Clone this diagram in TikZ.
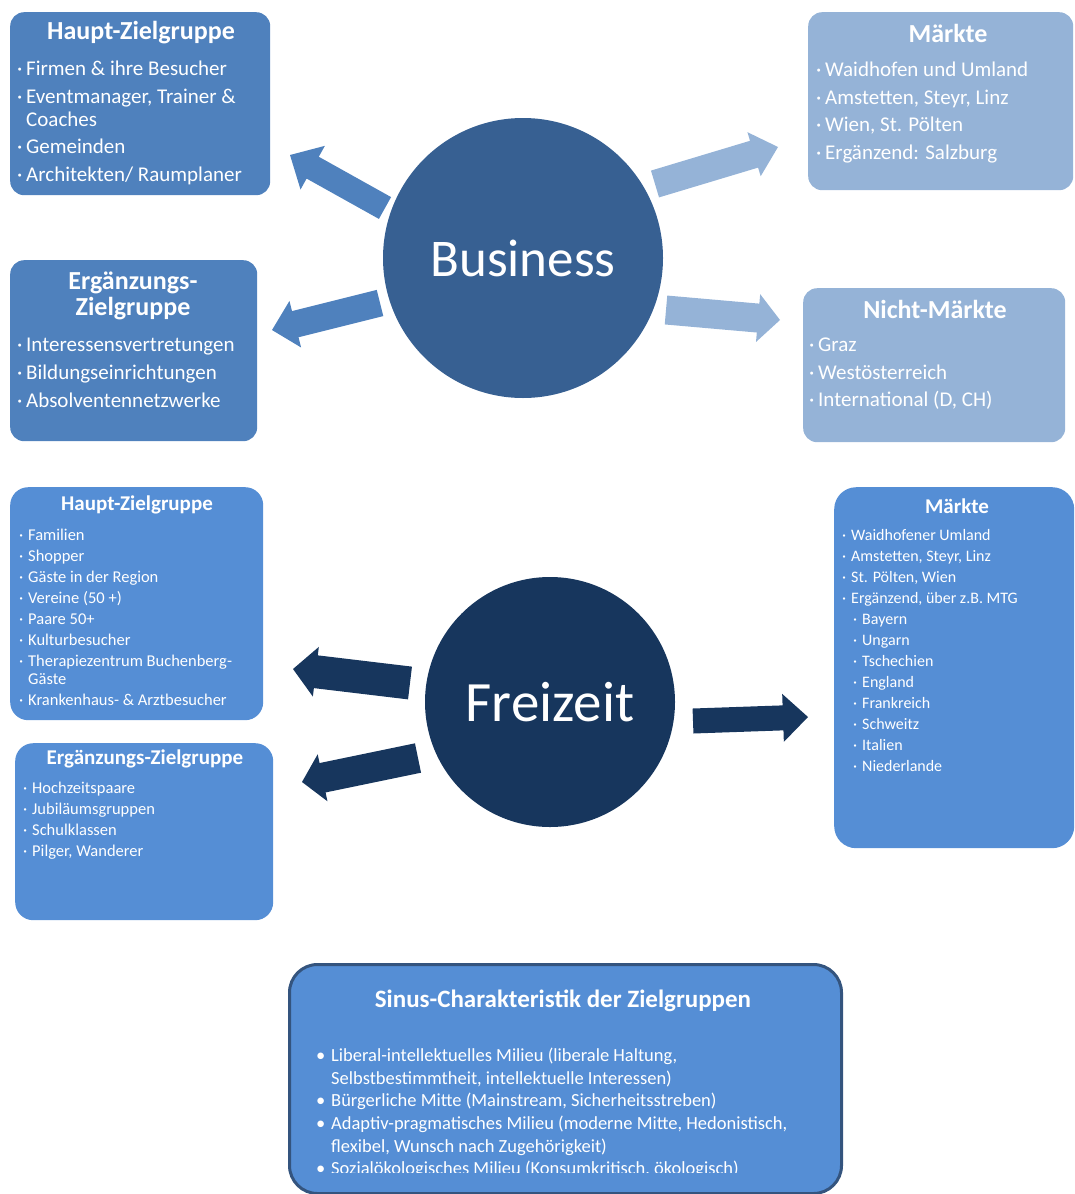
\documentclass[tikz,border=0pt]{standalone}
\usepackage{fontspec}
\setmainfont{Carlito}
\usetikzlibrary{calc}

\definecolor{bizblue}{RGB}{79,129,189}
\definecolor{bizpale}{RGB}{149,179,215}
\definecolor{bizdeep}{RGB}{55,96,146}
\definecolor{freiblue}{RGB}{85,142,213}
\definecolor{freinavy}{RGB}{23,54,93}
\definecolor{sinusrim}{RGB}{52,84,126}

\newcommand{\fsz}[2]{\fontsize{#1}{#2}\selectfont}
\newcommand{\itm}{\makebox[9pt][l]{\textperiodcentered}}
\newcommand{\bigitm}{\makebox[15pt][l]{\textbullet}}
% tail, tip, shaft half width, head half width, head length, colour
\newcommand{\blockarrow}[6]{%
  \coordinate (#1b) at ($(#2)!#5!(#1)$);
  \fill[#6] ($(#1)!#3!90:(#2)$) -- ($(#1b)!#3!90:(#2)$) -- ($(#1b)!#4!90:(#2)$) -- (#2)
    -- ($(#1b)!#4!-90:(#2)$) -- ($(#1b)!#3!-90:(#2)$) -- ($(#1)!#3!-90:(#2)$) -- cycle;}

\tikzset{
  panel/.style={rectangle, rounded corners=14pt, inner sep=0pt, anchor=north west, draw=none},
  hub/.style={circle, inner sep=0pt, text=white},
  ttl/.style={text=white, inner sep=0pt},
  lst/.style={text=white, align=left, inner sep=0pt, anchor=north west},
}

\begin{document}
\begin{tikzpicture}[x=1pt,y=-1pt]
\useasboundingbox (0,0) rectangle (1075,1194);

% Business
\node[hub, fill=bizdeep, minimum size=280pt, font=\fsz{53}{60}] (business) at (523,258) {Business};

\node[panel, fill=bizblue, minimum width=260pt, minimum height=183pt] (bizHaupt) at (10,12) {};
\node[ttl, font=\fsz{26}{27}\bfseries] (bizHauptT) at (141,33) {Haupt-Zielgruppe};
\node[lst, font=\fsz{21}{23}] (bizHauptL) at (17,61) {\itm Firmen \& ihre Besucher\\[4.5pt]
  \itm Eventmanager, Trainer \&\\ \hspace*{9pt}Coaches\\[4.5pt]
  \itm Gemeinden\\[4.5pt]
  \itm Architekten/ Raumplaner};

\node[panel, fill=bizblue, minimum width=247pt, minimum height=181pt] (bizErg) at (10,260) {};
\node[ttl, font=\fsz{26}{26}\bfseries, align=center] (bizErgT) at (133,296) {Ergänzungs-\\Zielgruppe};
\node[lst, font=\fsz{21}{28}] (bizErgL) at (17,338) {\itm Interessensvertretungen\\
  \itm Bildungseinrichtungen\\
  \itm Absolventennetzwerke};

\node[panel, fill=bizpale, minimum width=265pt, minimum height=178pt] (bizMarkt) at (808,12) {};
\node[ttl, font=\fsz{26}{27}\bfseries] (bizMarktT) at (948,33) {Märkte};
\node[lst, font=\fsz{21}{27.5}] (bizMarktL) at (816,62) {\itm Waidhofen und Umland\\
  \itm Amstetten, Steyr, Linz\\
  \itm Wien, St. Pölten\\
  \itm Ergänzend: Salzburg};

\node[panel, fill=bizpale, minimum width=262pt, minimum height=154pt] (bizNicht) at (803,288) {};
\node[ttl, font=\fsz{26}{27}\bfseries] (bizNichtT) at (935,309) {Nicht-Märkte};
\node[lst, font=\fsz{21}{27.5}] (bizNichtL) at (809,338) {\itm Graz\\
  \itm Westösterreich\\
  \itm International (D, CH)};

\coordinate (a1t) at (385,208); \coordinate (a1h) at (290,155);
\coordinate (a2t) at (380,303); \coordinate (a2h) at (272,330);
\coordinate (a3t) at (655,184); \coordinate (a3h) at (778,147);
\coordinate (a4t) at (666,310); \coordinate (a4h) at (780,320);
\blockarrow{a1t}{a1h}{12.5pt}{25pt}{26pt}{bizblue}
\blockarrow{a2t}{a2h}{13.5pt}{24pt}{24pt}{bizblue}
\blockarrow{a3t}{a3h}{14pt}{23pt}{25pt}{bizpale}
\blockarrow{a4t}{a4h}{14.5pt}{24pt}{22pt}{bizpale}

% Freizeit
\node[hub, fill=freinavy, minimum size=250pt, font=\fsz{57}{60}] (freizeit) at (550,702) {Freizeit};

\node[panel, rounded corners=18pt, fill=freiblue, minimum width=253pt, minimum height=233pt] (leiHaupt) at (10,487) {};
\node[ttl, font=\fsz{21}{22}\bfseries] (leiHauptT) at (137,505) {Haupt-Zielgruppe};
\node[lst, font=\fsz{16.5}{21}] (leiHauptL) at (19,529) {\itm Familien\\ \itm Shopper\\
  \itm Gäste in der Region\\ \itm Vereine (50 +)\\ \itm Paare 50+\\
  \itm Kulturbesucher\\ \itm Therapiezentrum Buchenberg-\\[-3pt] \hspace*{9pt}Gäste\\
  \itm Krankenhaus- \& Arztbesucher};

\node[panel, rounded corners=18pt, fill=freiblue, minimum width=258pt, minimum height=177pt] (leiErg) at (15,743) {};
\node[ttl, font=\fsz{21}{22}\bfseries] (leiErgT) at (145,759) {Ergänzungs-Zielgruppe};
\node[lst, font=\fsz{16.5}{21}] (leiErgL) at (23,782) {\itm Hochzeitspaare\\ \itm Jubiläumsgruppen\\
  \itm Schulklassen\\ \itm Pilger, Wanderer};

\node[panel, rounded corners=22pt, fill=freiblue, minimum width=240pt, minimum height=361pt] (leiMarkt) at (834,487) {};
\node[ttl, font=\fsz{21}{22}\bfseries] (leiMarktT) at (957,506) {Märkte};
\node[lst, font=\fsz{16}{21}] (leiMarktL) at (842,529) {\itm Waidhofener Umland\\
  \itm Amstetten, Steyr, Linz\\ \itm St. Pölten, Wien\\ \itm Ergänzend, über z.B. MTG\\
  \hspace*{11pt}\itm Bayern\\ \hspace*{11pt}\itm Ungarn\\ \hspace*{11pt}\itm Tschechien\\
  \hspace*{11pt}\itm England\\ \hspace*{11pt}\itm Frankreich\\ \hspace*{11pt}\itm Schweitz\\
  \hspace*{11pt}\itm Italien\\ \hspace*{11pt}\itm Niederlande};

\coordinate (b1t) at (410,683); \coordinate (b1h) at (293,669);
\coordinate (b2t) at (418,758); \coordinate (b2h) at (302,782);
\coordinate (b3t) at (693,721); \coordinate (b3h) at (808,717);
\blockarrow{b1t}{b1h}{16.5pt}{25pt}{23pt}{freinavy}
\blockarrow{b2t}{b2h}{15pt}{24pt}{21pt}{freinavy}
\blockarrow{b3t}{b3h}{12.5pt}{24pt}{25pt}{freinavy}

% Sinus
\node[panel, rounded corners=28pt, fill=freiblue, draw=sinusrim, line width=3pt, minimum width=552pt, minimum height=229pt] (sinus) at (288,963) {};
\node[ttl, font=\fsz{25}{26}\bfseries] (sinusT) at (563,1001) {Sinus-Charakteristik der Zielgruppen};
\begin{scope}
\clip (sinus.north west) rectangle (840,1172);
\node[lst, font=\fsz{18.5}{22.6}] (sinusL) at (316,1048) {\bigitm Liberal-intellektuelles Milieu (liberale Haltung,\\
  \hspace*{15pt}Selbstbestimmtheit, intellektuelle Interessen)\\
  \bigitm Bürgerliche Mitte (Mainstream, Sicherheitsstreben)\\
  \bigitm Adaptiv-pragmatisches Milieu (moderne Mitte, Hedonistisch,\\
  \hspace*{15pt}flexibel, Wunsch nach Zugehörigkeit)\\
  \bigitm Sozialökologisches Milieu (Konsumkritisch, ökologisch)};
\end{scope}
\end{tikzpicture}
\end{document}
